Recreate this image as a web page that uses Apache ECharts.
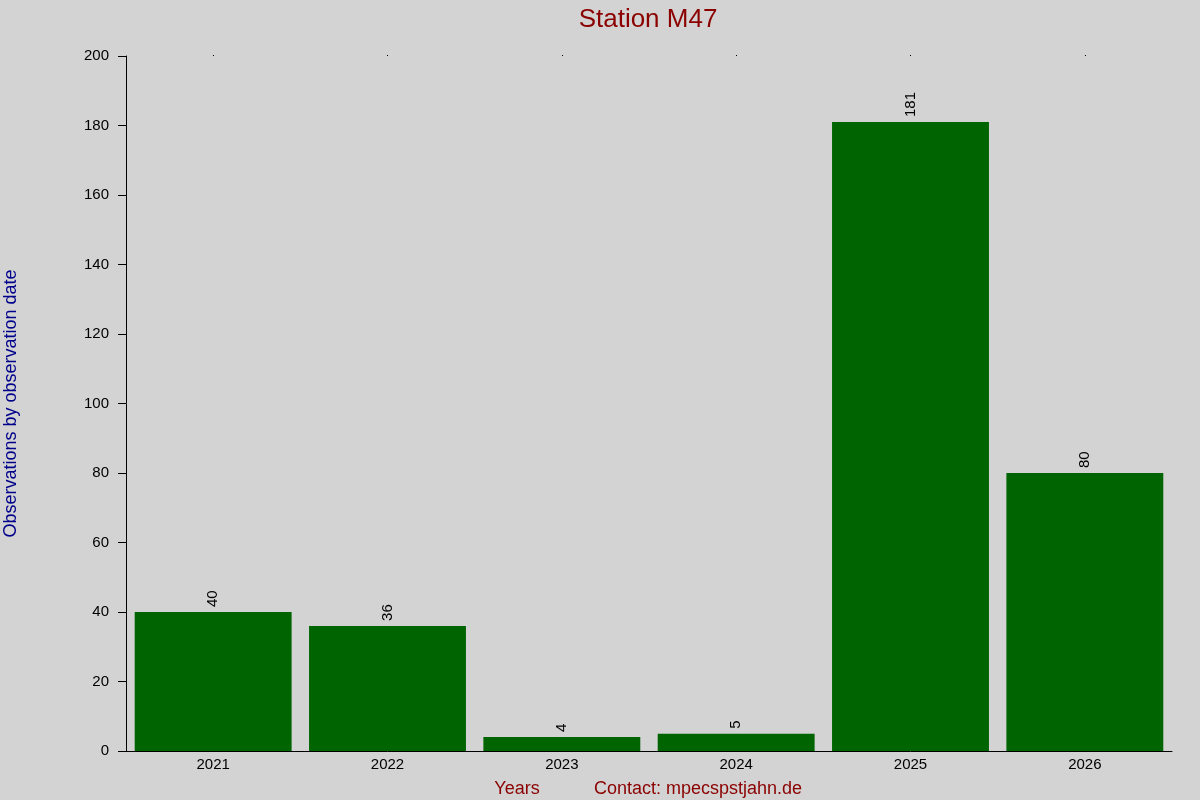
<!DOCTYPE html>
<html><head><meta charset="utf-8">
<script src="https://cdn.jsdelivr.net/npm/echarts@6/dist/echarts.min.js"></script>
<style>html,body{margin:0;padding:0;background:#d3d3d3}#c{width:1200px;height:800px}</style>
</head><body><div id="c"></div>
<script>
var years = ['2021','2022','2023','2024','2025','2026'];
var counts = [40, 36, 4, 5, 181, 80];
var yTicks = {min:0, max:200, interval:20};

var chart = echarts.init(document.getElementById('c'));
var font = 'Liberation Sans, Arial, sans-serif';
chart.setOption({
  backgroundColor:'#d3d3d3',
  animation:false,
  title:[
    {text:'Station M47', left:643, top:2, textAlign:'center',
     textStyle:{color:'#8b0000', fontSize:26, fontWeight:'normal', fontFamily:font}},
    {text:'Years', left:512, top:775, textAlign:'center',
     textStyle:{color:'#8b0000', fontSize:18, fontWeight:'normal', fontFamily:font}},
    {text:'Contact: mpecspstjahn.de', left:693, top:775, textAlign:'center',
     textStyle:{color:'#8b0000', fontSize:18, fontWeight:'normal', fontFamily:font}}
  ],
  grid:{left:126, right:28, top:56, bottom:49, containLabel:false, outerBoundsMode:'none'},
  xAxis:[{
    type:'category', data:years, position:'bottom',
    axisLine:{show:true, lineStyle:{color:'#000', width:1}},
    axisTick:{show:false},
    axisLabel:{color:'#000', fontSize:15, fontFamily:font, margin:6}
  },{
    type:'category', data:years, position:'top',
    axisLine:{show:false},
    axisTick:{show:true, alignWithLabel:true, length:1, lineStyle:{color:'#000'}},
    axisLabel:{show:false}
  }],
  yAxis:{
    type:'value', min:yTicks.min, max:yTicks.max, interval:yTicks.interval,
    name:'Observations by observation date', nameLocation:'middle', nameGap:106,
    nameTextStyle:{color:'#00008b', fontSize:18, fontFamily:font},
    axisLine:{show:true, lineStyle:{color:'#000'}},
    axisTick:{show:true, length:8, lineStyle:{color:'#000'}},
    splitLine:{show:false},
    axisLabel:{color:'#000', fontSize:15, fontFamily:font, margin:17}
  },
  series:[{
    type:'bar', data:counts, barCategoryGap:'10%',
    itemStyle:{color:'#006400'},
    label:{show:true, position:'top', rotate:90, distance:5, align:'left', verticalAlign:'middle',
      color:'#000', fontSize:15, fontFamily:font}
  }]
});
</script></body></html>
